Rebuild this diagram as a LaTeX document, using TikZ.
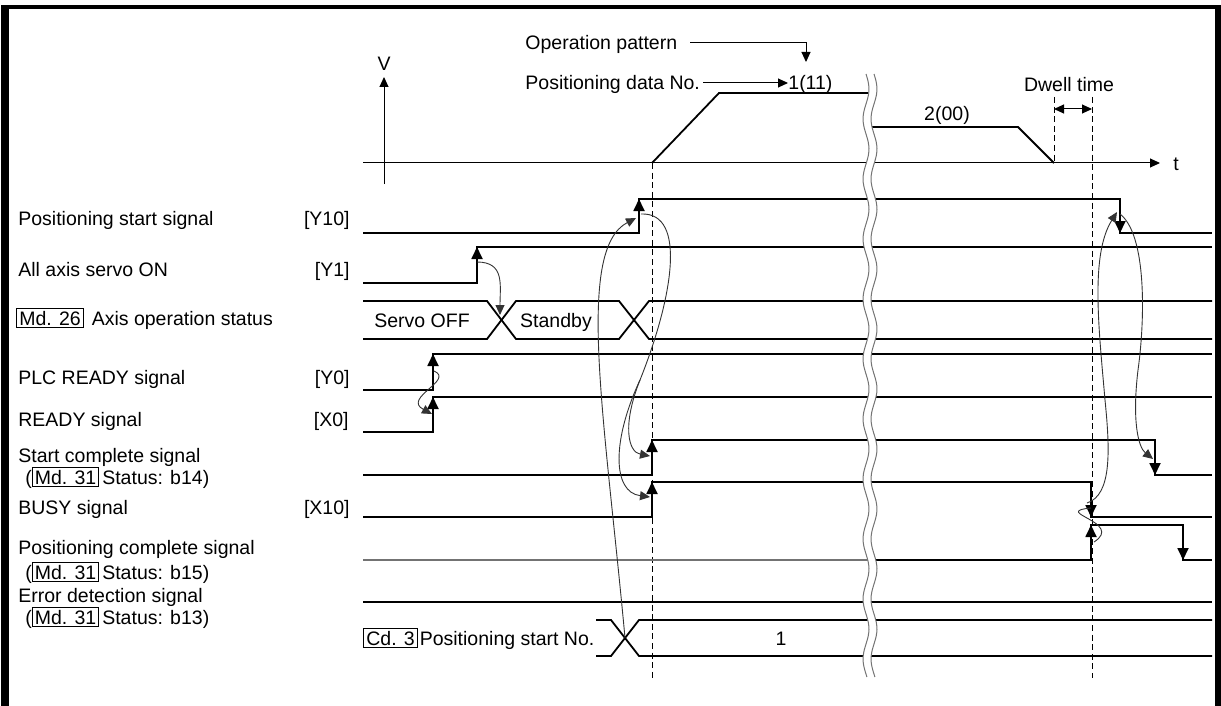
\documentclass[tikz,border=0pt]{standalone}
\usepackage{fontspec}
\setmainfont{Liberation Sans}
\usetikzlibrary{arrows.meta}
\newcommand\bxd[1]{{\setlength\fboxsep{1pt}\setlength\fboxrule{0.5pt}\fbox{#1}}}
\begin{document}
\begin{tikzpicture}[x=0.5pt,y=-0.5pt,
  sig/.style={line width=0.9pt},
  edgearr/.style={line width=0.9pt,-{Triangle[length=6pt,width=5.5pt]}},
  ax/.style={line width=0.5pt},
  cur/.style={line width=0.45pt,black!80},
  curarr/.style={line width=0.45pt,black!80,-{Triangle[length=5pt,width=4.5pt]}},
  dsh/.style={line width=0.5pt,dash pattern=on 3pt off 1.8pt},
  lbl/.style={inner sep=0pt,text height=7pt,text depth=0pt,font=\fontsize{9.75}{11}\selectfont},
  wave/.style={line width=0.5pt,black!55},
]
\useasboundingbox (0,0) rectangle (1221,706);
% frame
\fill (1,5) rectangle (9,706);
\fill (1,5) rectangle (1221,9.5);
\fill (1215,5) rectangle (1221,706);

% ---------- top velocity chart ----------
\draw[ax,-{Triangle[length=5pt,width=4.5pt]}] (384,184) -- (384,77);
\node[lbl,anchor=center] (V) at (384,64) {V};
\draw[ax,-{Triangle[length=5pt,width=4.5pt]}] (363,163) -- (1160,163);
\node[lbl,anchor=center] (tlab) at (1176,163) {t};
\draw[sig] (652,163) -- (719,93) -- (868,93);
\draw[sig] (872,127) -- (1018,127) -- (1054,163);

\node[lbl,anchor=west] (op) at (525,43) {Operation pattern};
\coordinate (opc) at (806,43);
\draw[ax,-{Triangle[length=5pt,width=4.5pt]}] (690,43) -- (opc) -- (806,62);
\node[lbl,anchor=west] (pdn) at (525,83) {Positioning data No.};
\node[lbl,anchor=west] (p1) at (788,83) {1(11)};
\draw[ax,-{Triangle[length=5pt,width=4.5pt]}] (pdn.east) ++(3,0) -- (p1.west);
\node[lbl,anchor=center] (p2) at (947,113) {2(00)};
\node[lbl,anchor=center] (dw) at (1069,85) {Dwell time};
\draw[dsh] (1054,97) -- (1054,163);
\draw[dsh] (1092,97) -- (1092,678);
\draw[ax,{Triangle[length=5pt,width=4.5pt]}-{Triangle[length=5pt,width=4.5pt]}] (1054,109) -- (1092,109);
\draw[dsh] (652,163) -- (652,678);

% ---------- labels ----------
\node[lbl,anchor=west] (l1) at (18,218) {Positioning start signal};
\node[lbl,anchor=east] (r1) at (350,218) {[Y10]};
\node[lbl,anchor=west] (l2) at (18,269) {All axis servo ON};
\node[lbl,anchor=east] (r2) at (350,269) {[Y1]};
\node[lbl,anchor=west] (l3) at (16,318) {\bxd{Md. 26}\hspace{4pt}Axis operation status};
\node[lbl,anchor=west] (l4) at (18,377) {PLC READY signal};
\node[lbl,anchor=east] (r4) at (350,377) {[Y0]};
\node[lbl,anchor=west] (l5) at (18,419) {READY signal};
\node[lbl,anchor=east] (r5) at (349,419) {[X0]};
\node[lbl,anchor=west] (l6) at (18,455) {Start complete signal};
\node[lbl,anchor=west] (l6b) at (25,477) {(\bxd{Md. 31}\hspace{1.5pt}Status: b14)};
\node[lbl,anchor=west] (l7) at (18,507) {BUSY signal};
\node[lbl,anchor=east] (r7) at (350,507) {[X10]};
\node[lbl,anchor=west] (l8) at (18,547) {Positioning complete signal};
\node[lbl,anchor=west] (l8b) at (25,572) {(\bxd{Md. 31}\hspace{1.5pt}Status: b15)};
\node[lbl,anchor=west] (l9) at (18,595) {Error detection signal};
\node[lbl,anchor=west] (l9b) at (25,617) {(\bxd{Md. 31}\hspace{1.5pt}Status: b13)};
\node[lbl,anchor=west] (l10) at (363,638) {\bxd{Cd. 3}\hspace{1pt}Positioning start No.};

% ---------- signals ----------
% Y10
\draw[sig] (363,233) -- (639,233) -- (639,199) -- (1120,199) -- (1120,233) -- (1212,233);
\draw[edgearr] (639,233) -- (639,199);
\draw[edgearr] (1120,199) -- (1120,233);
% Y1
\draw[sig] (363,283) -- (477,283) -- (477,247) -- (1212,247);
\draw[edgearr] (477,283) -- (477,247);
% Md26
\draw[sig] (363,301) -- (487,301) -- (516,339) -- (619,339) -- (649,301) -- (1212,301);
\draw[sig] (363,339) -- (487,339) -- (516,301) -- (619,301) -- (649,339) -- (1212,339);
\node[lbl,anchor=center] (so) at (422,320) {Servo OFF};
\node[lbl,anchor=center] (sb) at (556,320) {Standby};
% PLC READY
\draw[sig] (363,390) -- (433,390) -- (433,354) -- (1212,354);
\draw[edgearr] (433,390) -- (433,354);
% READY
\draw[sig] (363,432) -- (433,432) -- (433,397) -- (1212,397);
\draw[edgearr] (433,432) -- (433,397);
% Start complete
\draw[sig] (363,475) -- (652,475) -- (652,440) -- (1155,440) -- (1155,475) -- (1212,475);
\draw[edgearr] (652,475) -- (652,440);
\draw[edgearr] (1155,440) -- (1155,475);
% BUSY
\draw[sig] (363,517) -- (652,517) -- (652,482) -- (1091,482) -- (1091,517) -- (1212,517);
\draw[edgearr] (652,517) -- (652,482);
\draw[edgearr] (1091,482) -- (1091,517);
% Positioning complete
\draw[sig,black!55] (363,560) -- (868,560);
\draw[sig] (868,560) -- (1091,560) -- (1091,525) -- (1183,525) -- (1183,560) -- (1212,560);
\draw[edgearr] (1091,560) -- (1091,525);
\draw[edgearr] (1183,525) -- (1183,560);
% Error detection
\draw[sig] (363,602) -- (1212,602);
% Cd.3
\draw[sig] (596,620) -- (611,620) -- (639,656) -- (1212,656);
\draw[sig] (596,656) -- (611,656) -- (639,620) -- (1212,620);
\node[lbl,anchor=center] (one) at (781,638) {1};

% ---------- break ----------
\fill[white] plot[domain=74:677,samples=90] ({866+3*sin(6*(\x-74))},\x)
   -- plot[domain=677:74,samples=90] ({874+3*sin(6*(\x-74))},\x) -- cycle;
\draw[wave] plot[smooth,domain=74:677,samples=90] ({866+3*sin(6*(\x-74))},\x);
\draw[wave] plot[smooth,domain=74:677,samples=90] ({874+3*sin(6*(\x-74))},\x);

% ---------- causal curves ----------
\coordinate (y1r) at (477,262);
\coordinate (x1) at (500,315);
\draw[curarr] (y1r) .. controls (505,262) and (500,285) .. (x1);

\coordinate (plcr) at (434,371);
\coordinate (rdr) at (432,414);
\draw[curarr] (plcr) .. controls (455,380) and (402,398) .. (rdr);

\coordinate (cdx) at (625,638);
\coordinate (y10r) at (636,218);
\draw[curarr] (cdx) .. controls (605,420) and (575,250) .. (y10r);

\coordinate (y10t) at (641,214);
\coordinate (split) at (640,380);
\draw[cur] (y10t) .. controls (688,212) and (672,300) .. (split);
\draw[curarr] (split) .. controls (622,425) and (628,452) .. (650,456);
\draw[curarr] (split) .. controls (612,440) and (612,492) .. (650,497);

\coordinate (y10f) at (1117,212);
\coordinate (busyf) at (1087,503);
\draw[curarr] (busyf) .. controls (1112,495) and (1110,450) .. (1105,400)
   .. controls (1099,330) and (1090,255) .. (y10f);
\draw[curarr] (1120,214) .. controls (1147,235) and (1145,320) .. (1138,370)
   .. controls (1132,420) and (1138,447) .. (1153,459);
\draw[cur] (1091,508) .. controls (1050,512) and (1125,522) .. (1094,542);
\end{tikzpicture}
\end{document}
